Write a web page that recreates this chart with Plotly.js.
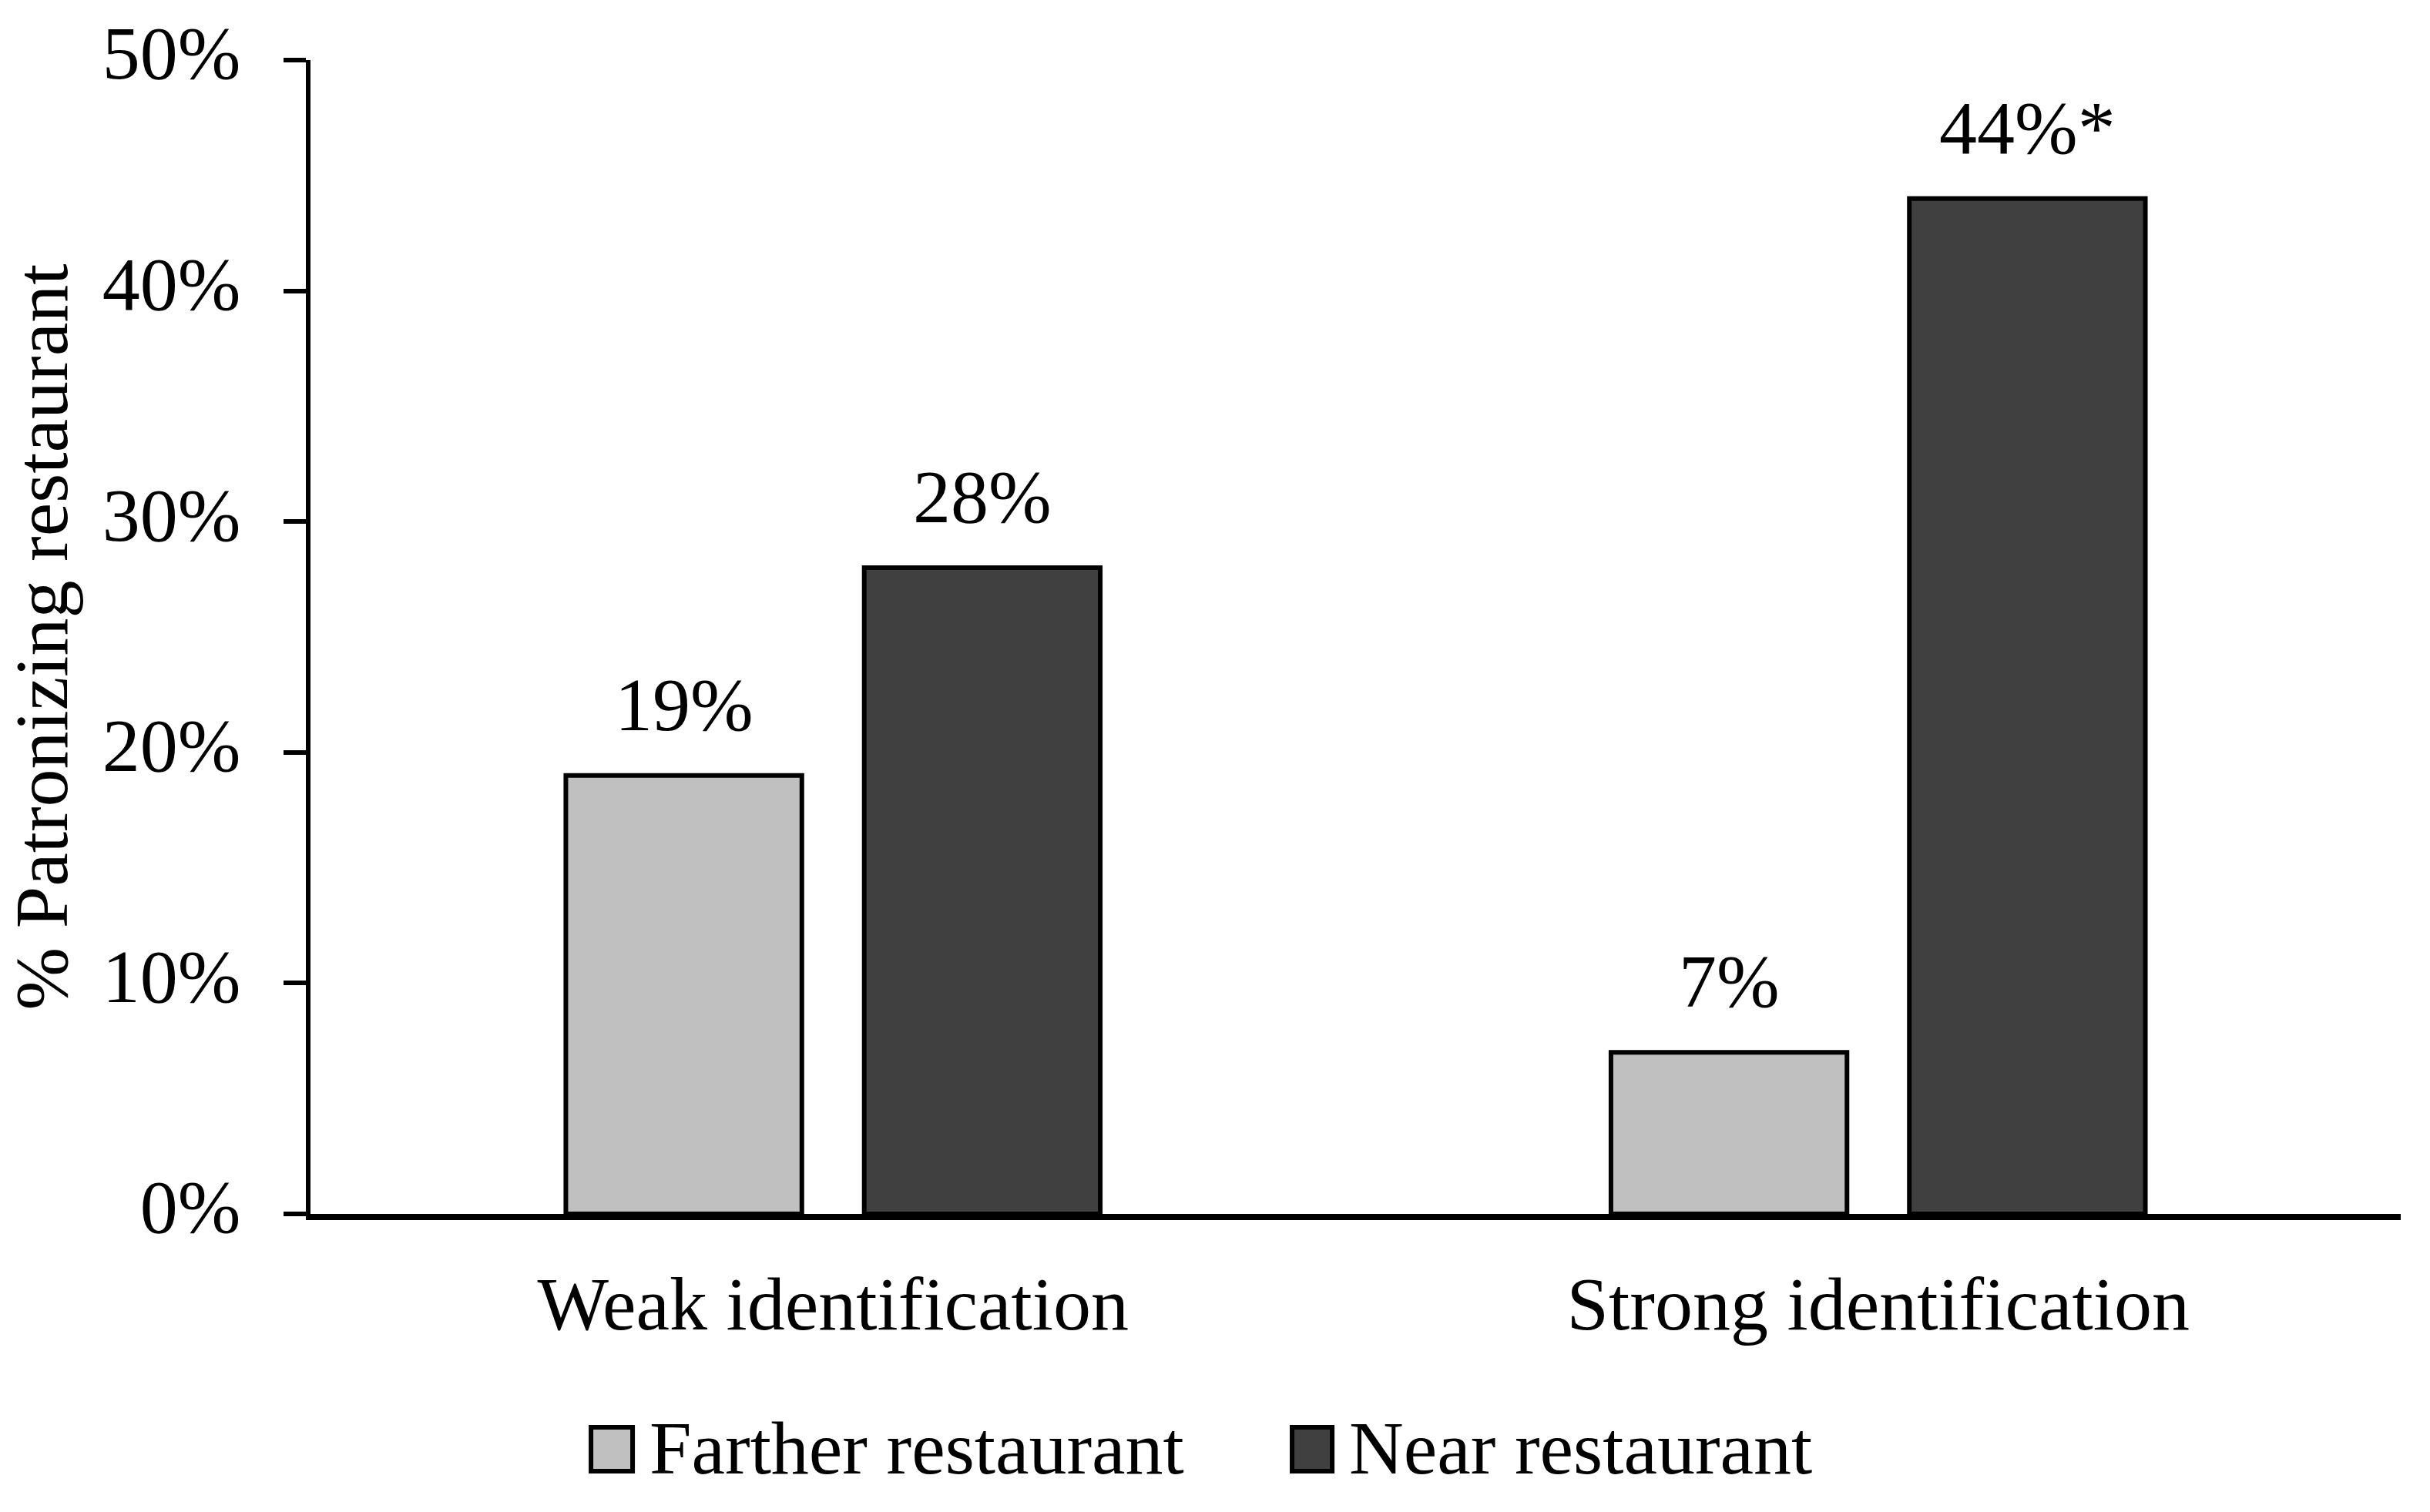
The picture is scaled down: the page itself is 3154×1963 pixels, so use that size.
<!DOCTYPE html>
<html>
<head>
<meta charset="utf-8">
<script src="https://cdn.plot.ly/plotly-3.0.1.min.js"></script>
<style>html,body{margin:0;padding:0;background:#fff;}#chart{width:3154px;height:1963px;}</style>
</head>
<body>
<div id="chart"></div>
<script>
const categories = ["Weak identification", "Strong identification"];
const seriesNames = ["Farther restaurant", "Near restaurant"];
const fartherValues = [0.19, 0.07];
const nearValues = [0.28, 0.44];
const fartherLabels = ["19%", "7%"];
const nearLabels = ["28%", "44%*"];
const yTickVals = [0, 0.1, 0.2, 0.3, 0.4, 0.5];
const yTickText = ["0%", "10%", "20%", "30%", "40%", "50%"];

const FONT = "Liberation Serif, Times New Roman, serif";
const FS = 98;
const colors = ["#c0c0c0", "#404040"];
const bargap = 0.429;
const slot = (1 - bargap) / 2;

const traces = [
  {type: "bar", name: seriesNames[0], x: categories, y: fartherValues,
   marker: {color: colors[0], line: {color: "#000", width: 6}}, showlegend: false, hoverinfo: "none"},
  {type: "bar", name: seriesNames[1], x: categories, y: nearValues,
   marker: {color: colors[1], line: {color: "#000", width: 6}}, showlegend: false, hoverinfo: "none"}
];

const annotations = [];
[fartherLabels, nearLabels].forEach((labels, j) => {
  const vals = j === 0 ? fartherValues : nearValues;
  labels.forEach((t, i) => {
    annotations.push({x: i + (j - 0.5) * slot, y: vals[i], xref: "x", yref: "y", text: t,
      showarrow: false, yanchor: "bottom", yshift: 36, font: {family: FONT, size: FS, color: "#000"}});
  });
});

// custom legend
const legendItems = [
  {box: [0.1342, 0.1541], tx: 0.1614},
  {box: [0.4696, 0.4888], tx: 0.4961}
];
const shapes = [];
legendItems.forEach((it, j) => {
  shapes.push({type: "rect", xref: "paper", yref: "paper", x0: it.box[0], x1: it.box[1], y0: -0.2230, y1: -0.1849,
    fillcolor: colors[j], line: {color: "#000", width: 6}});
  annotations.push({xref: "paper", yref: "paper", x: it.tx, y: -0.203, xanchor: "left", yanchor: "middle",
    text: seriesNames[j], showarrow: false, font: {family: FONT, size: FS, color: "#000"}});
});

const layout = {
  width: 3154, height: 1963,
  margin: {l: 403, r: 38, t: 78, b: 387},
  paper_bgcolor: "#fff", plot_bgcolor: "#fff",
  font: {family: FONT, size: FS, color: "#000"},
  barmode: "group", bargap: bargap, bargroupgap: 0.209,
  showlegend: false,
  xaxis: {type: "category", showline: true, linecolor: "#000", linewidth: 8, ticks: "", showgrid: false,
    zeroline: false, tickfont: {family: FONT, size: FS, color: "#000"}, ticklabelstandoff: 24, fixedrange: true},
  yaxis: {range: [0, 0.5], tickvals: yTickVals, ticktext: yTickText, showline: true, linecolor: "#000", linewidth: 6,
    ticks: "outside", ticklen: 29, tickwidth: 6, tickcolor: "#000", showgrid: false, zeroline: false,
    tickfont: {family: FONT, size: FS, color: "#000"}, ticklabelstandoff: 36, ticklabelshift: -10,
    title: {text: "% Patronizing restaurant", font: {family: FONT, size: FS, color: "#000"}, standoff: 40},
    fixedrange: true},
  annotations: annotations,
  shapes: shapes
};

Plotly.newPlot("chart", traces, layout, {displayModeBar: false, staticPlot: true});
</script>
</body>
</html>
